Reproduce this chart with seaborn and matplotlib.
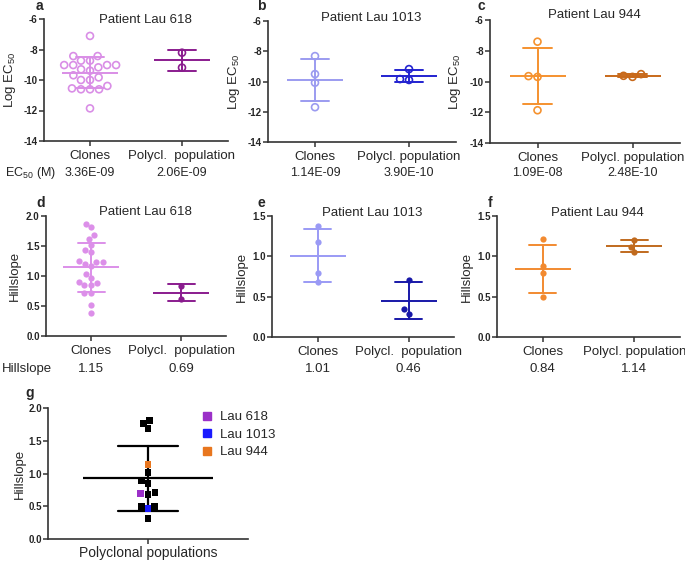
import matplotlib
matplotlib.use("Agg")
import matplotlib.pyplot as plt
from matplotlib.lines import Line2D
from matplotlib.ticker import FormatStrFormatter
from matplotlib.transforms import blended_transform_factory
import pandas as pd
import seaborn as sns

CATS = ["Clones", "Polycl. population"]

# log EC50 per clone / polyclonal population (panels a-c)
lau618_ec50_clones = [-7.11, -8.43, -8.43, -8.73, -8.73, -9.02, -9.02, -9.02, -9.02, -9.17, -9.30,
                      -9.39, -9.69, -9.83, -10.0, -10.0, -10.39, -10.55, -10.61, -10.61, -10.61, -11.86]
lau618_ec50_poly = [-8.21, -9.19]
lau1013_ec50_clones = [-8.32, -9.51, -10.08, -11.70]
lau1013_ec50_poly = [-9.18, -9.90, -9.84]
lau944_ec50_clones = [-7.41, -9.65, -9.70, -11.87]
lau944_ec50_poly = [-9.52, -9.70, -9.63]

# hillslopes (panels d-f)
lau618_hill_clones = [1.87, 1.81, 1.69, 1.62, 1.52, 1.40, 1.43, 1.24, 1.20, 1.17, 1.23,
                      1.25, 1.04, 0.97, 0.90, 0.89, 0.85, 0.85, 0.71, 0.72, 0.52, 0.38]
lau618_hill_poly = [0.83, 0.62]
lau1013_hill_clones = [1.38, 1.18, 0.79, 0.68]
lau1013_hill_poly = [0.71, 0.35, 0.29]
lau944_hill_clones = [1.22, 0.88, 0.79, 0.50]
lau944_hill_poly = [1.20, 1.12, 1.05]

# panel g: hillslopes of all polyclonal populations
poly_other = [1.81, 1.68, 1.76, 1.02, 0.89, 0.85, 0.71, 0.68, 0.50, 0.50, 0.31]
poly_named = ["Lau 618", "Lau 1013", "Lau 944"]
poly_named_vals = [0.69, 0.46, 1.14]
poly_named_colors = ["#9b30c8", "#1a1aff", "#e8761e"]

ec50_text = [["3.36E-09", "2.06E-09"], ["1.14E-09", "3.90E-10"], ["1.09E-08", "2.48E-10"]]
hill_text = [["1.15", "0.69"], ["1.01", "0.46"], ["0.84", "1.14"]]

sns.set_style("ticks")
plt.rcParams["font.family"] = ["Liberation Sans", "DejaVu Sans"]
plt.rcParams["mathtext.default"] = "regular"
plt.rcParams["axes.unicode_minus"] = False

W, H = 685, 562
fig = plt.figure(figsize=(W / 100, H / 100), dpi=100)


def px_axes(left, top, right, bottom):
    return fig.add_axes([left / W, 1 - bottom / H, (right - left) / W, (bottom - top) / H])


def style_axes(ax, ylim, yticks, fmt, xlabels):
    ax.set_ylim(*ylim)
    ax.set_yticks(yticks)
    ax.yaxis.set_major_formatter(FormatStrFormatter(fmt))
    ax.set_xlim(-0.5, len(xlabels) - 0.5)
    ax.set_xticks(range(len(xlabels)), xlabels)
    ax.set_xlabel("")
    sns.despine(ax=ax)
    for side in ["left", "bottom"]:
        ax.spines[side].set_linewidth(1.2)
        ax.spines[side].set_color("#333333")
    ax.tick_params(direction="out", length=3.5, width=1.1, color="#333333")
    ax.tick_params(axis="x", labelsize=9.5, pad=3)
    ax.tick_params(axis="y", labelsize=7, pad=1)
    for lab in ax.get_yticklabels():
        lab.set_fontweight("bold")


def dot_panel(rect, clones, poly, colors, hollow, xlabels, ylim, yticks, fmt,
              ylabel, label_x, title, title_y):
    ax = px_axes(*rect)
    df = pd.DataFrame({"group": [CATS[0]] * len(clones) + [CATS[1]] * len(poly),
                       "value": list(clones) + list(poly)})
    for cat, col in zip(CATS, colors):
        sub = df[df["group"] == cat]
        if hollow:
            sns.swarmplot(data=sub, x="group", y="value", order=CATS, ax=ax, size=5,
                          color=col, facecolor="none", edgecolor=col, linewidth=1.2)
        else:
            sns.swarmplot(data=sub, x="group", y="value", order=CATS, ax=ax, size=4.5,
                          color=col, linewidth=0)
        sns.pointplot(data=sub, x="group", y="value", order=CATS, ax=ax,
                      errorbar="sd", capsize=0.3, color=col, marker="_", markersize=41,
                      markeredgewidth=1.4, linestyle="none", err_kws={"linewidth": 1.4})
    style_axes(ax, ylim, yticks, fmt, xlabels)
    ax.set_ylabel(ylabel, fontsize=9.5)
    ax.yaxis.set_label_coords(label_x, 0.5)
    ax.text(0.55, title_y, title, transform=ax.transAxes, ha="center", va="baseline", fontsize=9.5)
    return ax


ec_ticks = [-14, -12, -10, -8, -6]
ec_label = "Log EC$_{50}$"
ax_a = dot_panel((44, 19, 228, 141), lau618_ec50_clones, lau618_ec50_poly, ["#d98ee6", "#8a1c8e"], True,
                 ["Clones", "Polycl.  population"], (-14, -6), ec_ticks, "%d", ec_label, -0.14,
                 "Patient Lau 618", 0.97)
ax_b = dot_panel((268, 21, 456, 142), lau1013_ec50_clones, lau1013_ec50_poly, ["#9b9bf0", "#2323d0"], True,
                 ["Clones", "Polycl. population"], (-14, -6), ec_ticks, "%d", ec_label, -0.14,
                 "Patient Lau 1013", 1.0)
ax_c = dot_panel((490, 20, 680, 143), lau944_ec50_clones, lau944_ec50_poly, ["#f5922f", "#c8691a"], True,
                 ["Clones", "Polycl. population"], (-14, -6), ec_ticks, "%d", ec_label, -0.14,
                 "Patient Lau 944", 1.015)

ax_d = dot_panel((46, 216, 226, 336), lau618_hill_clones, lau618_hill_poly, ["#dc8fe9", "#8a1c8e"], False,
                 ["Clones", "Polycl.  population"], (0, 2.0), [0, 0.5, 1.0, 1.5, 2.0], "%.1f", "Hillslope",
                 -0.139, "Patient Lau 618", 1.01)
ax_e = dot_panel((272, 216, 454, 337), lau1013_hill_clones, lau1013_hill_poly, ["#9a9af5", "#1818a8"], False,
                 ["Clones", "Polycl.  population"], (0, 1.5), [0, 0.5, 1.0, 1.5], "%.1f", "Hillslope",
                 -0.132, "Patient Lau 1013", 1.0)
ax_f = dot_panel((497, 216, 680, 337), lau944_hill_clones, lau944_hill_poly, ["#f28a30", "#c06a1e"], False,
                 ["Clones", "Polycl. population"], (0, 1.5), [0, 0.5, 1.0, 1.5], "%.1f", "Hillslope",
                 -0.132, "Patient Lau 944", 1.0)

# text rows under the panels
fig.text(5 / W, 1 - 173 / H, "EC$_{50}$ (M)", va="center", fontsize=9)
for ax, vals in zip([ax_a, ax_b, ax_c], ec50_text):
    tr = blended_transform_factory(ax.transData, fig.transFigure)
    for i, s in enumerate(vals):
        ax.text(i, 1 - 173 / H, s, transform=tr, ha="center", va="center", fontsize=9)

fig.text(2 / W, 1 - 369 / H, "Hillslope", va="center", fontsize=9.5)
for ax, vals in zip([ax_d, ax_e, ax_f], hill_text):
    tr = blended_transform_factory(ax.transData, fig.transFigure)
    for i, s in enumerate(vals):
        ax.text(i, 1 - 369 / H, s, transform=tr, ha="center", va="center", fontsize=9.5)

# panel g
ax_g = px_axes(48, 408, 248, 539)
g_df = pd.DataFrame({
    "group": "Polyclonal populations",
    "value": poly_other + poly_named_vals,
    "patient": ["other"] * len(poly_other) + poly_named,
})
pal = dict(zip(poly_named, poly_named_colors))
pal["other"] = "black"
sns.swarmplot(data=g_df, x="group", y="value", hue="patient", palette=pal, marker="s",
              size=5, linewidth=0, legend=False, ax=ax_g)
sns.pointplot(data=g_df, x="group", y="value", ax=ax_g, errorbar="sd", capsize=0.3,
              color="black", marker="_", markersize=93, markeredgewidth=1.6,
              linestyle="none", err_kws={"linewidth": 1.6})
style_axes(ax_g, (0, 2.0), [0, 0.5, 1.0, 1.5, 2.0], "%.1f", ["Polyclonal populations"])
ax_g.tick_params(axis="x", labelsize=10, pad=1.5)
ax_g.set_ylabel("Hillslope", fontsize=9.5)
ax_g.yaxis.set_label_coords(-0.11, 0.5)

handles = [Line2D([], [], marker="s", color=c, linestyle="none", markersize=6) for c in poly_named_colors]
fig.legend(handles, poly_named, loc="upper left", bbox_to_anchor=(202 / W, 1 - 411 / H),
           frameon=False, fontsize=9.5, handlelength=0.8, handletextpad=0.6,
           labelspacing=0.4, borderpad=0, borderaxespad=0)

# panel letters
for letter, x, y in [("a", 36, 10), ("b", 257, 10), ("c", 478, 10), ("d", 36, 207),
                     ("e", 258, 207), ("f", 488, 207), ("g", 25, 397)]:
    fig.text(x / W, 1 - y / H, letter, fontsize=10, fontweight="bold", va="baseline")

fig.savefig("out.png", dpi=100)
